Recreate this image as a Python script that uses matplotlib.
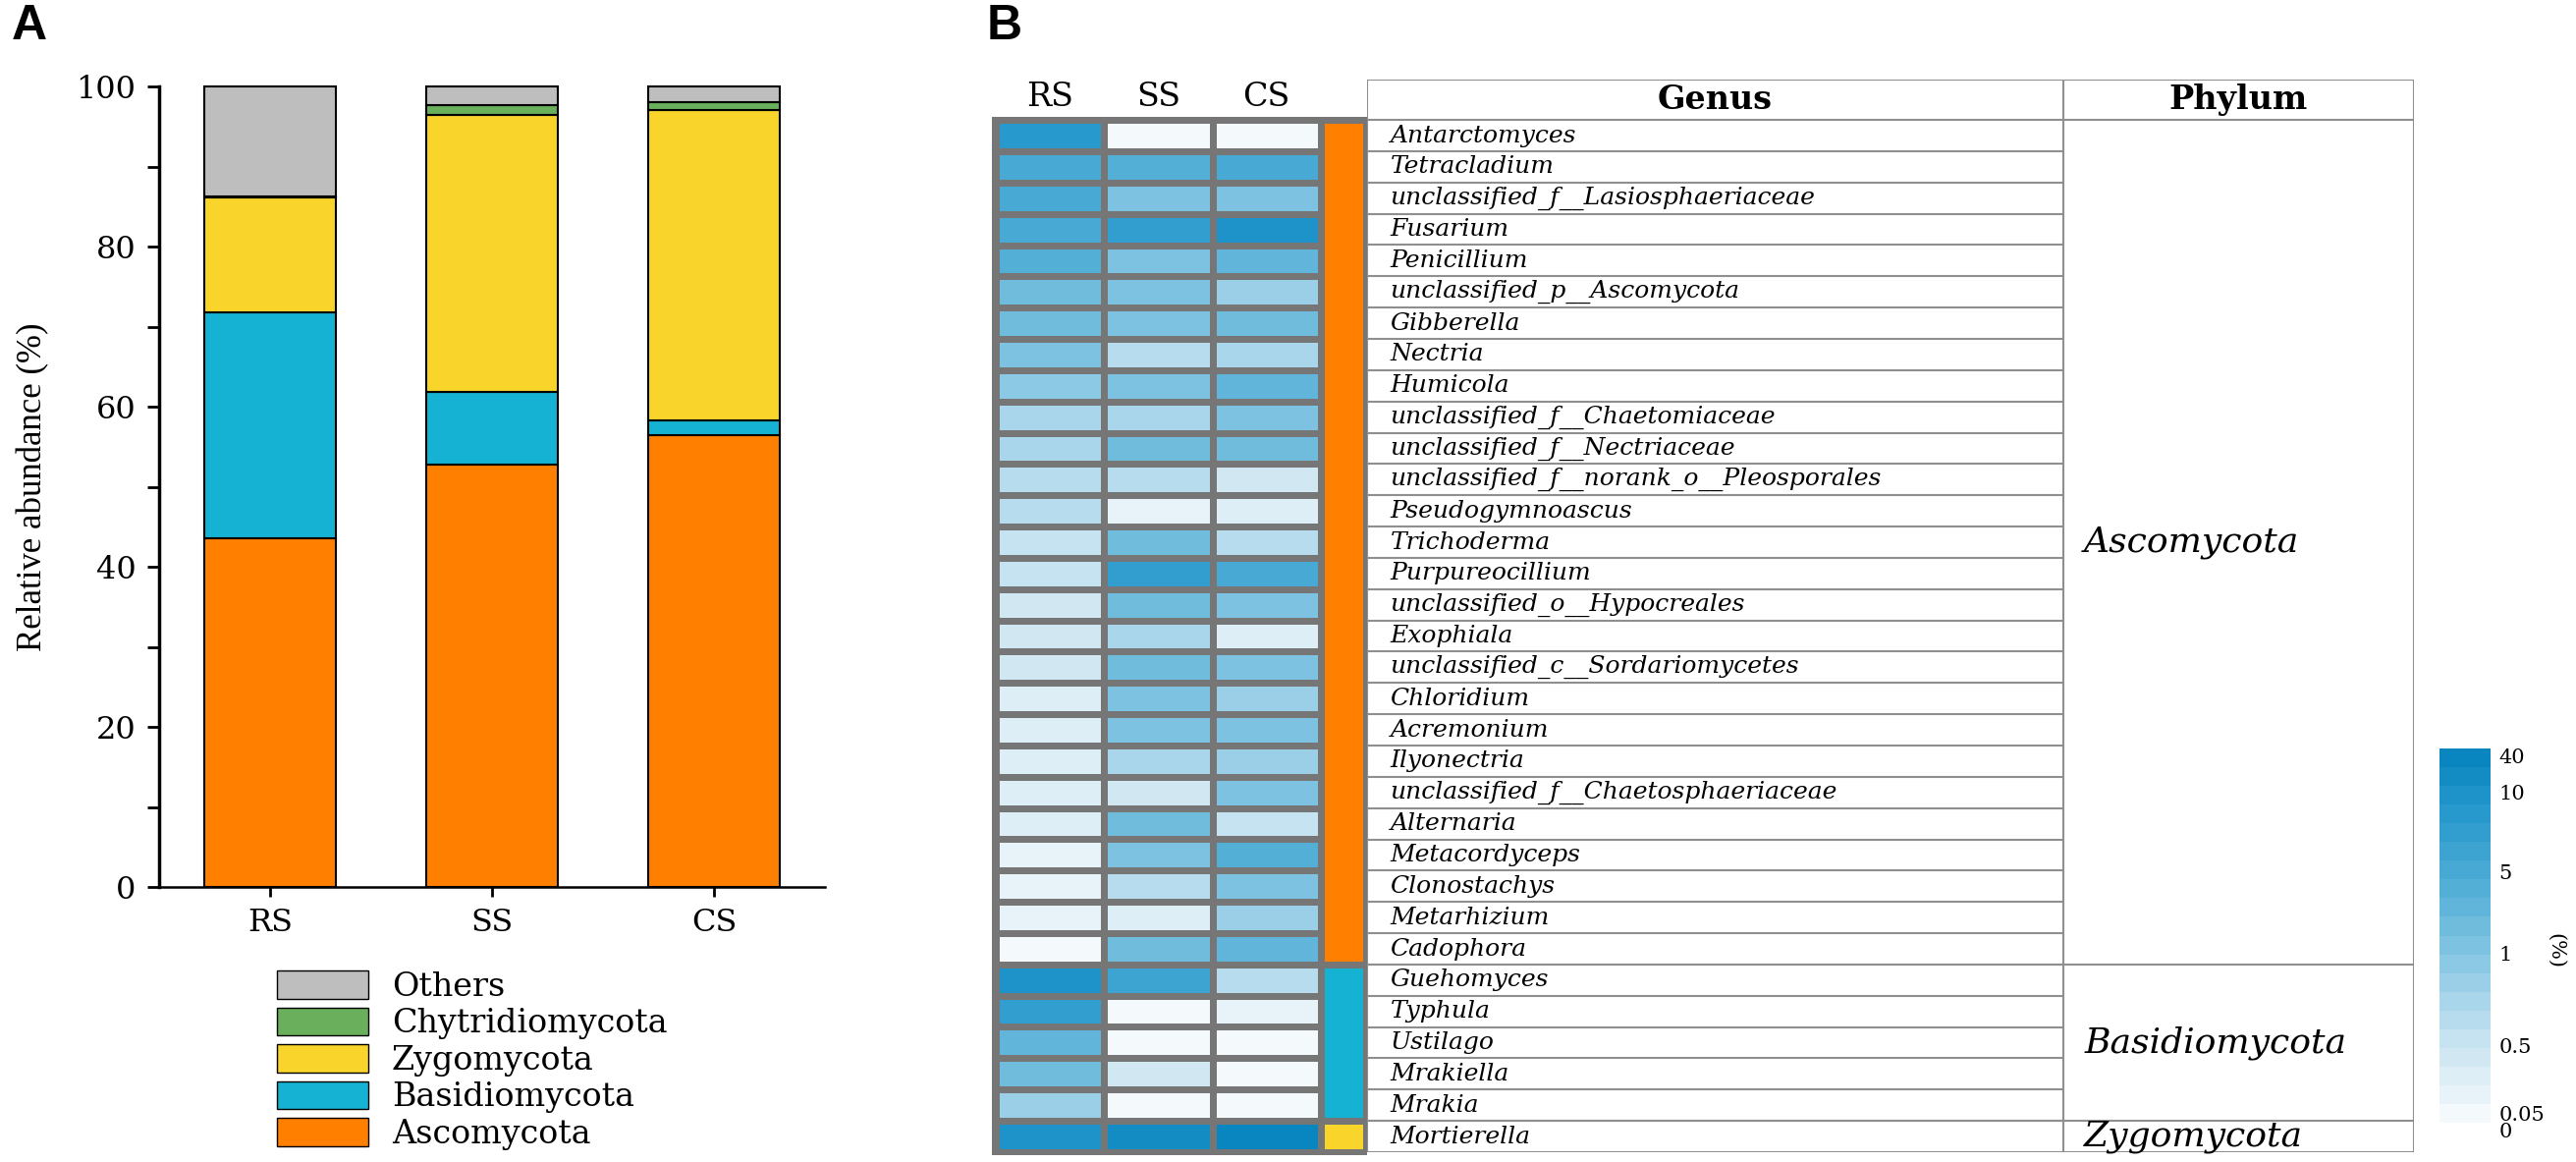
import numpy as np
import matplotlib
matplotlib.use("Agg")
import matplotlib.pyplot as plt
from matplotlib.colors import LinearSegmentedColormap, ListedColormap, FuncNorm
from matplotlib.cm import ScalarMappable
from matplotlib.patches import Patch

W, H = 2623, 1183

# ---- panel A data: relative abundance (%) per phylum ----
samples = ["RS", "SS", "CS"]
phyla = ["Ascomycota", "Basidiomycota", "Zygomycota", "Chytridiomycota", "Others"]
phylum_colors = ["#ff8000", "#15b2d3", "#f9d42a", "#6aaf5c", "#bebebe"]
ascomycota = [43.5, 52.8, 56.5]
basidiomycota = [28.3, 9.0, 1.8]
zygomycota = [14.3, 34.7, 38.8]
chytridiomycota = [0.1, 1.2, 0.9]
others = [13.8, 2.3, 2.0]

# ---- panel B data: genus abundance (%) ----
genera = [
    "Antarctomyces", "Tetracladium", "unclassified_f__Lasiosphaeriaceae",
    "Fusarium", "Penicillium", "unclassified_p__Ascomycota", "Gibberella",
    "Nectria", "Humicola", "unclassified_f__Chaetomiaceae",
    "unclassified_f__Nectriaceae", "unclassified_f__norank_o__Pleosporales",
    "Pseudogymnoascus", "Trichoderma", "Purpureocillium",
    "unclassified_o__Hypocreales", "Exophiala", "unclassified_c__Sordariomycetes",
    "Chloridium", "Acremonium", "Ilyonectria",
    "unclassified_f__Chaetosphaeriaceae", "Alternaria", "Metacordyceps",
    "Clonostachys", "Metarhizium", "Cadophora", "Guehomyces", "Typhula",
    "Ustilago", "Mrakiella", "Mrakia", "Mortierella",
]
rs = [8.7, 5.0, 4.8, 5.2, 3.8, 2.6, 2.6, 1.4, 0.94, 0.73, 0.73, 0.67, 0.63,
      0.53, 0.51, 0.43, 0.43, 0.38, 0.28, 0.28, 0.28, 0.27, 0.27, 0.15, 0.15,
      0.15, 0.03, 11, 6.9, 3.3, 2.7, 0.85, 11]
ss = [0.07, 3.8, 1.4, 6.9, 1.4, 1.4, 1.0, 0.65, 1.4, 0.73, 2.7, 0.61, 0.15,
      2.7, 7.4, 2.7, 0.76, 2.2, 1.4, 1.4, 0.76, 0.43, 2.7, 1.0, 0.67, 0.28,
      2.7, 6.2, 0.03, 0.03, 0.38, 0.03, 30]
cs = [0, 5.0, 1.4, 9.4, 2.8, 0.82, 2.5, 0.76, 3.0, 1.4, 2.7, 0.41, 0.31,
      0.65, 5.0, 1.4, 0.28, 1.4, 0.82, 1.0, 0.85, 1.4, 0.51, 4.6, 1.4, 0.85,
      3.3, 0.67, 0.15, 0.03, 0.09, 0.03, 42]
phylum_groups = ["Ascomycota", "Basidiomycota", "Zygomycota"]
group_sizes = [27, 5, 1]
group_colors = ["#ff8000", "#15b2d3", "#f9d42a"]
cbar_ticks = [0, 0.05, 0.5, 1, 5, 10, 40]


def fig_rect(x0, y0, x1, y1):
    return [x0 / W, 1 - y1 / H, (x1 - x0) / W, (y1 - y0) / H]


plt.rcParams["font.family"] = ["DejaVu Serif"]
fig = plt.figure(figsize=(W / 100, H / 100), dpi=100)

# ================= panel A =================
ax = fig.add_axes(fig_rect(162, 88, 840, 903))
x = np.arange(len(samples))
bottom = np.zeros(len(samples))
series = [ascomycota, basidiomycota, zygomycota, chytridiomycota, others]
for name, vals, col in zip(phyla, series, phylum_colors):
    ax.bar(x, vals, 0.593, bottom=bottom, color=col, edgecolor="black",
           linewidth=1.5, label=name, clip_on=False)
    bottom += np.array(vals)
ax.set_xlim(-0.5, 2.5)
ax.set_ylim(0, 100)
ax.set_yticks(range(0, 101, 20))
ax.set_yticks(range(10, 100, 20), minor=True)
ax.set_xticks(x, samples)
ax.tick_params(axis="y", which="major", length=9, width=2, labelsize=23, pad=8)
ax.tick_params(axis="y", which="minor", length=9, width=2)
ax.tick_params(axis="x", length=7, width=2, labelsize=23, pad=8)
for s in ["top", "right"]:
    ax.spines[s].set_visible(False)
ax.spines["left"].set_linewidth(2.5)
ax.spines["bottom"].set_linewidth(1.8)
fig.text(34 / W, 1 - 496 / H, "Relative abundance (%)", rotation=90,
         ha="center", va="center", fontsize=25, family="Liberation Serif")

handles = [Patch(facecolor=c, edgecolor="black", linewidth=1) for c in phylum_colors]
fig.legend(handles[::-1], phyla[::-1], loc="upper left",
           bbox_to_anchor=(282 / W, 1 - 988 / H), frameon=False, fontsize=24,
           handlelength=2.8, handleheight=0.95, labelspacing=0.14,
           handletextpad=0.7, borderpad=0, borderaxespad=0)

fig.text(12 / W, 1 - 4 / H, "A", fontsize=36, fontweight="bold",
         family="Liberation Sans", va="top")
fig.text(1005 / W, 1 - 4 / H, "B", fontsize=36, fontweight="bold",
         family="Liberation Sans", va="top")

# ================= panel B heatmap =================
anchor_vals = [0, 0.05, 0.5, 1, 5, 10, 40, 45]
anchor_pos = [0, 0.025, 0.205, 0.453, 0.671, 0.884, 0.98, 1.0]
norm = FuncNorm((lambda v: np.interp(v, anchor_vals, anchor_pos),
                 lambda p: np.interp(p, anchor_pos, anchor_vals)), vmin=0, vmax=45)
cmap = LinearSegmentedColormap.from_list(
    "abund", [(0, "#f4f9fc"), (0.2, "#c8e4f1"), (0.45, "#84c5e2"),
              (0.67, "#4aaad5"), (0.88, "#2095ca"), (1, "#0985bf")], N=20)

grid_gray = "#767676"
n = len(genera)
axh = fig.add_axes(fig_rect(1010, 119, 1392, 1176))
axh.set_facecolor(grid_gray)
data = np.column_stack([rs, ss, cs])
axh.pcolormesh(np.arange(4), np.arange(n + 1), data, cmap=cmap, norm=norm,
               edgecolors=grid_gray, linewidth=5)
edges = np.concatenate([[0], np.cumsum(group_sizes)])
axh.pcolormesh([3.0, 3.418], edges, np.arange(len(group_sizes)).reshape(-1, 1),
               cmap=ListedColormap(group_colors), vmin=-0.5,
               vmax=len(group_sizes) - 0.5, edgecolors=grid_gray, linewidth=5)
axh.set_xlim(-0.04, 3.43)
axh.set_ylim(n + 0.1, -0.1)
axh.xaxis.tick_top()
axh.set_xticks(np.arange(3) + 0.5, samples)
axh.tick_params(axis="x", length=0, labelsize=24, pad=3)
axh.set_yticks([])
for s in axh.spines.values():
    s.set_visible(False)

# ================= table =================
line_col = "#8f8f8f"
hdr = 1.29
div = 0.665
axt = fig.add_axes(fig_rect(1392, 81, 2458, 1173))
axt.set_xlim(0, 1)
axt.set_ylim(n, -hdr)
axt.axis("off")
axt.hlines(np.arange(1, n), 0, div, color=line_col, lw=1.5)
axt.hlines([-hdr, 0, n] + list(edges[1:-1]), 0, 1, color=line_col, lw=1.5)
axt.vlines([0, div, 1], -hdr, n, color=line_col, lw=1.5)
axt.text(div / 2, -hdr / 2, "Genus", ha="center", va="center",
         fontsize=24, fontweight="bold")
axt.text((div + 1) / 2, -hdr / 2, "Phylum", ha="center", va="center",
         fontsize=24, fontweight="bold")
for i, g in enumerate(genera):
    axt.text(0.022, i + 0.5, g, ha="left", va="center", fontsize=18,
             style="italic")
for name, lo, hi in zip(phylum_groups, edges[:-1], edges[1:]):
    axt.text(0.685, (lo + hi) / 2, name, ha="left", va="center",
             fontsize=26, style="italic")

# ================= colour bar =================
cax = fig.add_axes(fig_rect(2484, 762, 2536, 1143))
cb = fig.colorbar(ScalarMappable(norm=norm, cmap=cmap), cax=cax)
cb.outline.set_visible(False)
cb.set_ticks(cbar_ticks, labels=[str(t) for t in cbar_ticks])
cax.tick_params(length=0, labelsize=15, pad=6)
cax.get_yticklabels()[0].set_va("top")
cax.text(2.27, 0.46, "(%)", transform=cax.transAxes, rotation=270,
         ha="center", va="center", fontsize=15)

fig.savefig("out.png", dpi=100)
